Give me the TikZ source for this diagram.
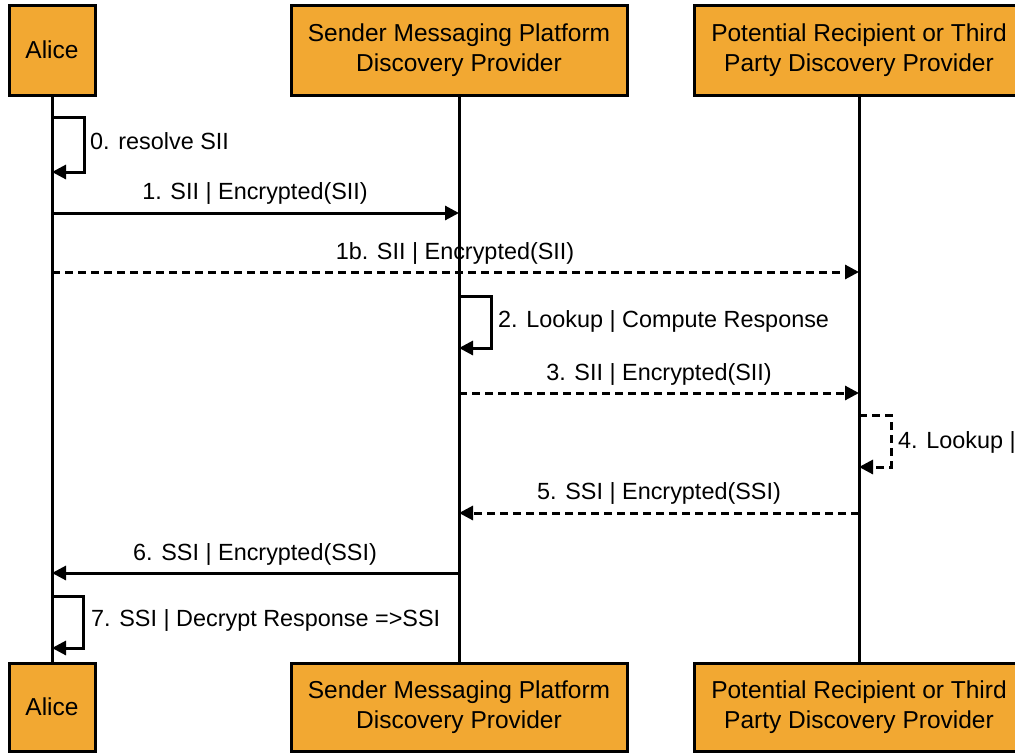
\documentclass[tikz,border=0pt]{standalone}
\usepackage{fontspec}
\setmainfont{Liberation Sans}
\usetikzlibrary{arrows.meta,positioning}
\definecolor{boxorange}{HTML}{F2A832}
\tikzset{
  actor/.style={draw=black, line width=3pt, fill=boxorange, align=center,
    inner sep=0pt, font=\fontsize{24.5}{29.5}\selectfont},
  lifeline/.style={line width=3pt},
  msg/.style={line width=3pt, -{Triangle[length=14pt,width=14pt]}},
  reply/.style={msg, dash pattern=on 8pt off 5pt},
  lbl/.style={font=\fontsize{23.4}{28}\selectfont, inner sep=0pt},
}
\begin{document}
\begin{tikzpicture}[x=1pt,y=-1pt]
\useasboundingbox (0,0) rectangle (1015,753);
\clip (0,0) rectangle (1015,753);

% participant boxes, top and bottom
\node[actor, minimum width=86pt, minimum height=90pt] (aT) at (52,50) {Alice};
\node[actor, minimum width=336pt, minimum height=90pt] (sT) at (459,50) {Sender Messaging Platform\\Discovery Provider};
\node[actor, minimum width=330pt, minimum height=90pt] (pT) at (859,50) {Potential Recipient or Third\\Party Discovery Provider};
\node[actor, minimum width=86pt, minimum height=88pt] (aB) at (52,707) {Alice};
\node[actor, minimum width=336pt, minimum height=88pt] (sB) at (459,707) {Sender Messaging Platform\\Discovery Provider};
\node[actor, minimum width=330pt, minimum height=88pt] (pB) at (859,707) {Potential Recipient or Third\\Party Discovery Provider};

% lifelines
\draw[lifeline] (aT.south) -- (aB.north);
\draw[lifeline] (sT.south) -- (sB.north);
\draw[lifeline] (pT.south) -- (pB.north);

% anchor points on the lifelines
\coordinate (a0s) at (52,117);  \coordinate (a0e) at (52,172);
\coordinate (a1)  at (52,213);  \coordinate (s1)  at (459,213);
\coordinate (a1b) at (52,272);  \coordinate (p1b) at (859,272);
\coordinate (s2s) at (459,296); \coordinate (s2e) at (459,348);
\coordinate (s3)  at (459,393); \coordinate (p3)  at (859,393);
\coordinate (p4s) at (859,415); \coordinate (p4e) at (859,467);
\coordinate (p5)  at (859,513); \coordinate (s5)  at (459,513);
\coordinate (s6)  at (459,573); \coordinate (a6)  at (52,573);
\coordinate (a7s) at (52,596);  \coordinate (a7e) at (52,648);

% 0. self call
\draw[msg] (a0s) -- ++(32,0) |- (a0e);
\node[lbl, anchor=west] (l0) at (90,141) {0. resolve SII};

% 1. request to sender provider
\draw[msg] (a1) -- (s1);
\node[lbl] (l1) at (255,193) {1. SII | Encrypted(SII)};

% 1b. request to third party
\draw[reply] (a1b) -- (p1b);
\node[lbl] (l1b) at (455,253) {1b. SII | Encrypted(SII)};

% 2. lookup at sender provider
\draw[msg] (s2s) -- ++(32,0) |- (s2e);
\node[lbl, anchor=west] (l2) at (498,321) {2. Lookup | Compute Response};

% 3. forward to third party
\draw[reply] (s3) -- (p3);
\node[lbl] (l3) at (659,374) {3. SII | Encrypted(SII)};

% 4. lookup at third party
\draw[reply] (p4s) -- ++(32,0) |- (p4e);
\node[lbl, anchor=west] (l4) at (898,442) {4. Lookup |};

% 5. response to sender provider
\draw[reply] (p5) -- (s5);
\node[lbl] (l5) at (659,493) {5. SSI | Encrypted(SSI)};

% 6. response to Alice
\draw[msg] (s6) -- (a6);
\node[lbl] (l6) at (255,554) {6. SSI | Encrypted(SSI)};

% 7. decrypt
\draw[msg] (a7s) -- ++(31,0) |- (a7e);
\node[lbl, anchor=west] (l7) at (91,620) {7. SSI | Decrypt Response =>SSI};
\end{tikzpicture}
\end{document}
